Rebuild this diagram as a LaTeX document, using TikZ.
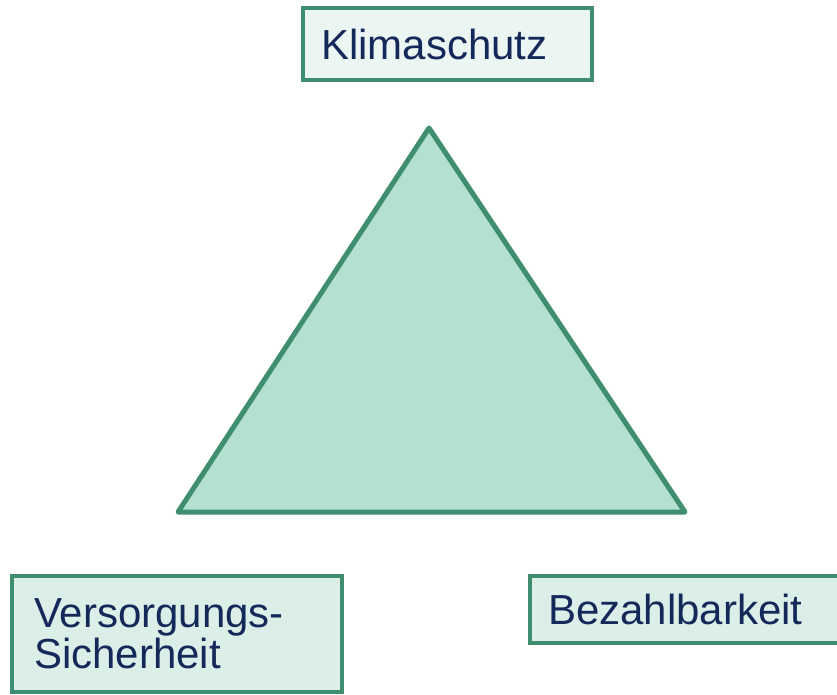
\documentclass[tikz,border=0pt]{standalone}
\usepackage{fontspec}
\setmainfont{Liberation Sans}
\definecolor{edgegreen}{HTML}{3E8E6F}
\definecolor{trifill}{HTML}{B3E0D1}
\definecolor{boxfillA}{HTML}{EBF5F2}
\definecolor{boxfillB}{HTML}{DBEFE8}
\definecolor{navy}{HTML}{14285A}
\tikzset{
  goalbox/.style={draw=edgegreen, line width=4pt, rectangle, anchor=north west,
    align=left, text=navy, font=\fontsize{42}{41}\selectfont, inner ysep=0pt},
}
\begin{document}
\begin{tikzpicture}[x=1pt,y=-1pt]
\useasboundingbox (0,0) rectangle (837,694);
\coordinate (apex) at (429,128);
\coordinate (bl) at (178,512);
\coordinate (br) at (685,512);
\draw[draw=edgegreen, fill=trifill, line width=5pt, line join=round] (apex) -- (br) -- (bl) -- cycle;
\node[goalbox, fill=boxfillA, inner xsep=18pt, text width=253pt, minimum width=289pt, minimum height=72pt] (klima) at (301,6) {Klimaschutz};
\node[goalbox, fill=boxfillB, inner xsep=22pt, text width=286pt, minimum width=330pt, minimum height=116pt] (vers) at (10,574) {Versorgungs-\\Sicherheit};
\node[goalbox, fill=boxfillB, inner xsep=18pt, text width=290pt, minimum width=326pt, minimum height=67pt] (bez) at (528,574) {Bezahlbarkeit};
\end{tikzpicture}
\end{document}
